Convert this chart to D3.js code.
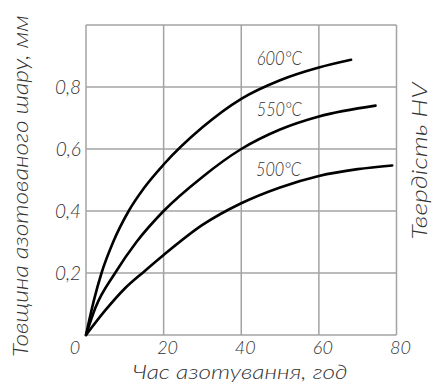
<!DOCTYPE html>
<html>
<head>
<meta charset="utf-8">
<script src="https://cdn.jsdelivr.net/npm/d3@7"></script>
<style>
  html, body { margin: 0; padding: 0; background: #fff; }
  svg { display: block; }
  text {
    font-family: "Lato", "Roboto", "DejaVu Sans", sans-serif;
    font-style: italic;
    font-weight: 300;
    fill: #333;
  }
</style>
</head>
<body>
<svg id="chart" width="435" height="387"></svg>
<script>
// Nitrided layer depth (mm) versus nitriding time (h) at three temperatures
const hours600 = [0, 2, 4, 7, 11, 15, 20, 30, 40, 50, 60, 68.3];
const depth600 = [0, 0.11, 0.2, 0.3, 0.4, 0.475, 0.55, 0.67, 0.762, 0.822, 0.863, 0.888];

const hours550 = [0, 2.5, 7.5, 13, 20, 30, 40, 50, 60, 74.6];
const depth550 = [0, 0.09, 0.2, 0.3, 0.4, 0.51, 0.6, 0.663, 0.705, 0.74];

const hours500 = [0, 5, 10, 15, 20, 30, 40, 50, 60, 70, 78.9];
const depth500 = [0, 0.08, 0.15, 0.205, 0.258, 0.355, 0.425, 0.476, 0.513, 0.535, 0.547];

const curveLabels = ["600°C", "550°C", "500°C"];
// where each curve label sits, in data units (hours, mm)
const labelHours = [44, 44, 43.8];
const labelDepth = [0.871, 0.707, 0.514];

const xTicks = [20, 40, 60, 80];
const yTicks = [0.2, 0.4, 0.6, 0.8];
const xTitle = "Час азотування, год";
const yTitle = "Товщина азотованого шару, мм";
const y2Title = "Твердість HV";

const svg = d3.select("#chart");
const x = d3.scaleLinear().domain([0, 80]).range([86, 396.5]);
const y = d3.scaleLinear().domain([0, 1]).range([335, 25]);

const fmt = v => String(v).replace(".", ",");

// grid
const grid = svg.append("g").attr("stroke", "#a3a3a3").attr("stroke-width", 1.5).attr("fill", "none");
grid.selectAll(".gx").data([0, ...xTicks]).join("line")
  .attr("x1", d => x(d)).attr("x2", d => x(d))
  .attr("y1", y(0)).attr("y2", y(1));
grid.selectAll(".gy").data([0, ...yTicks, 1]).join("line")
  .attr("x1", x(0)).attr("x2", x(80))
  .attr("y1", d => y(d)).attr("y2", d => y(d));

// tick labels
svg.append("g").selectAll("text").data(xTicks).join("text")
  .attr("x", d => x(d) + 4).attr("y", 354)
  .attr("text-anchor", "middle").attr("font-size", 18)
  .text(d => d);
svg.append("text").attr("x", 75).attr("y", 354)
  .attr("text-anchor", "middle").attr("font-size", 18).text("0");
svg.append("g").selectAll("text").data(yTicks).join("text")
  .attr("x", 81).attr("y", d => y(d) + 7)
  .attr("text-anchor", "end").attr("font-size", 19)
  .text(d => fmt(d));

// curves
const series = [
  hours600.map((h, i) => [h, depth600[i]]),
  hours550.map((h, i) => [h, depth550[i]]),
  hours500.map((h, i) => [h, depth500[i]])
];
const line = d3.line().x(d => x(d[0])).y(d => y(d[1])).curve(d3.curveMonotoneX);
svg.append("g").selectAll("path").data(series).join("path")
  .attr("d", line)
  .attr("fill", "none").attr("stroke", "#000").attr("stroke-width", 2.6)
  .attr("stroke-linecap", "round");

// curve labels
svg.append("g").selectAll("text").data(curveLabels).join("text")
  .attr("x", (d, i) => x(labelHours[i]))
  .attr("y", (d, i) => y(labelDepth[i]))
  .attr("font-size", 19)
  .attr("textLength", 45).attr("lengthAdjust", "spacingAndGlyphs")
  .text(d => d);

// axis titles
svg.append("text").attr("x", 240).attr("y", 379)
  .attr("text-anchor", "middle").attr("font-size", 20)
  .attr("textLength", 215).attr("lengthAdjust", "spacingAndGlyphs")
  .text(xTitle);
svg.append("text").attr("transform", "translate(28,186) rotate(-90)")
  .attr("text-anchor", "middle").attr("font-size", 22)
  .attr("textLength", 342).attr("lengthAdjust", "spacingAndGlyphs")
  .text(yTitle);
svg.append("text").attr("transform", "translate(427,161) rotate(-90)")
  .attr("text-anchor", "middle").attr("font-size", 22)
  .attr("textLength", 157).attr("lengthAdjust", "spacingAndGlyphs")
  .text(y2Title);
</script>
</body>
</html>
